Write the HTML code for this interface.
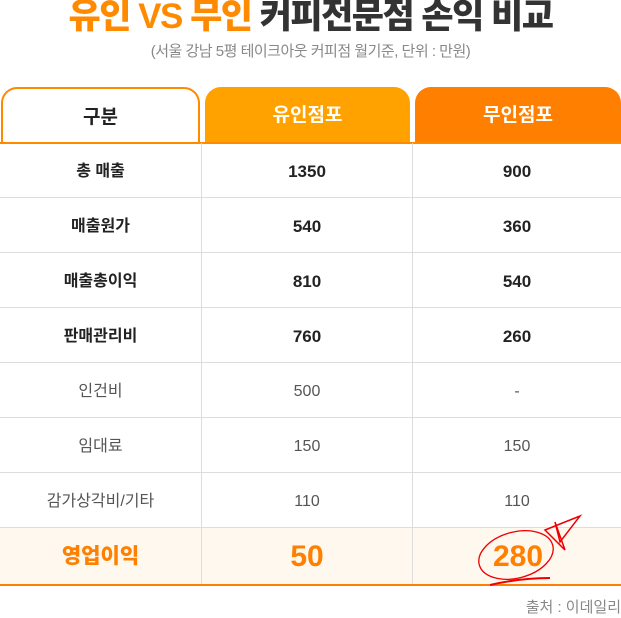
<!DOCTYPE html>
<html><head><meta charset="utf-8"><style>
*{margin:0;padding:0;box-sizing:border-box}
body{width:621px;height:617px;background:#fff;position:relative;overflow:hidden;font-family:"Liberation Sans","Noto Sans CJK KR",sans-serif}
.a{position:absolute}
#title{left:0;width:621px;top:-8px;text-align:center;font-size:35px;line-height:50px;font-weight:900;color:#333;letter-spacing:-1.5px;white-space:nowrap}
#title span{color:#ff8a00}
#sub{left:0;width:621px;top:41px;text-align:center;font-size:15px;line-height:22px;color:#888;letter-spacing:-0.5px}
.tab{top:87px;height:57px;border-radius:16px 16px 0 0;font-size:19px;font-weight:bold;line-height:57px;text-align:center;color:#fff}
.row{left:0;width:621px;height:55px;border-bottom:1px solid #ddd;display:flex;font-size:17px;color:#222}
.row div{line-height:58px;text-align:center;height:54px}
.c1{width:202px;border-right:1px solid #ddd}.c2{width:211px;border-right:1px solid #ddd}.c3{width:208px}
.b{font-weight:bold}.n{color:#555;font-size:16px}
.p{line-height:58px;text-align:center;color:#ff7f00;font-weight:900;height:56px}
</style></head><body>
<div class="a" id="title"><span>유인 VS 무인</span> 커피전문점 손익 비교</div>
<div class="a" id="sub">(서울 강남 5평 테이크아웃 커피점 월기준, 단위 : 만원)</div>
<div class="a tab" style="left:1px;width:199px;border:2px solid #ff8a00;border-bottom:none;color:#222;background:#fff">구분</div>
<div class="a tab" style="left:205px;width:205px;background:#ffa200">유인점포</div>
<div class="a tab" style="left:415px;width:206px;background:#ff7f00">무인점포</div>
<div class="a" style="left:0;top:142px;width:621px;height:2px;background:#ff8a00"></div>
<div id="rows"></div>
<div class="a" style="left:0;top:528px;width:621px;height:58px;background:#fff8ef;display:flex;border-bottom:2px solid #ff7f00">
<div class="c1 p" style="font-size:21px">영업이익</div>
<div class="c2 p" style="font-size:30px">50</div>
<div class="c3 p" style="font-size:30px;padding-left:2px">280</div>
</div>
<svg class="a" style="left:470px;top:510px" width="120" height="80">
<ellipse cx="46" cy="45" rx="38" ry="23" transform="rotate(-15 46 45)" fill="none" stroke="#e00" stroke-width="1.3"/>
<path d="M20 75 Q50 68 80 68" stroke="#e00" stroke-width="2" fill="none"/>
<path d="M75 20 L110 6 L90 32 L85 12 L95 40 Z" stroke="#e00" stroke-width="1.5" fill="none"/>
</svg>
<div class="a" style="right:0;top:598px;font-size:15px;line-height:20px;color:#888">출처 : 이데일리</div>
<script>
const labels=["총 매출","매출원가","매출총이익","판매관리비","인건비","임대료","감가상각비/기타"];
const staffed=["1350","540","810","760","500","150","110"];
const unmanned=["900","360","540","260","-","150","110"];
const bold=[1,1,1,1,0,0,0];
const c=document.getElementById('rows');
labels.forEach((l,i)=>{
const r=document.createElement('div');
r.className='a row';r.style.top=(143+i*55)+'px';


const cls=bold[i]?'b':'n';
r.innerHTML=`<div class="c1 ${bold[i]?'b':''}" style="${bold[i]?'font-size:16px':'color:#555;font-size:16px'}">${l}</div><div class="c2 ${cls}">${staffed[i]}</div><div class="c3 ${cls}">${unmanned[i]}</div>`;
c.appendChild(r);
});
</script>
</body></html>
